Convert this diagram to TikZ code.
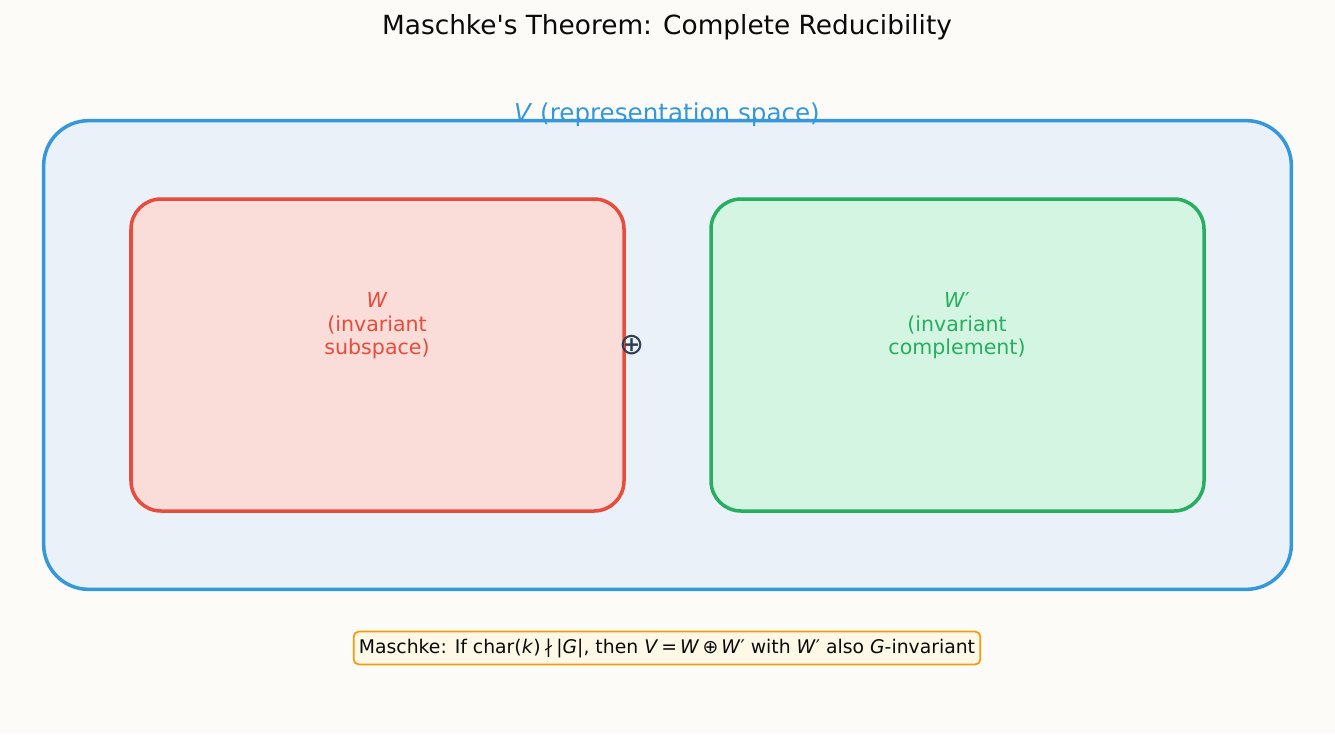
\documentclass[tikz,border=0pt]{standalone}
\usepackage{fontspec}
\setmainfont{DejaVu Sans}
\usetikzlibrary{positioning}
\definecolor{paper}{RGB}{252,251,247}
\definecolor{ink}{RGB}{10,10,10}
\definecolor{slate}{RGB}{44,62,80}
\definecolor{spaceblue}{RGB}{52,152,219}
\definecolor{spacefill}{RGB}{234,241,248}
\definecolor{subred}{RGB}{231,76,60}
\definecolor{subfill}{RGB}{250,220,217}
\definecolor{compgreen}{RGB}{39,174,96}
\definecolor{compfill}{RGB}{212,245,226}
\definecolor{noteorange}{RGB}{243,156,18}
\definecolor{notefill}{RGB}{254,249,231}
\tikzset{
    spacebox/.style={
        rectangle,
        rounded corners=0.9cm,
        minimum width=24.94cm,
        minimum height=9.36cm,
        inner sep=0pt
    },
    subbox/.style={
        rectangle,
        rounded corners=0.6cm,
        line width=2pt,
        minimum width=9.86cm,
        minimum height=6.24cm,
        inner sep=0pt
    },
    boxlabel/.style={
        align=center,
        font=\fontsize{11.7}{13.4}\selectfont
    },
    note/.style={
        rectangle,
        draw=noteorange,
        fill=notefill,
        line width=1pt,
        rounded corners=3pt,
        inner xsep=3pt,
        inner ysep=4pt,
        font=\fontsize{10.7}{12}\selectfont,
        text=ink
    }
}

\begin{document}
\begin{tikzpicture}
\useasboundingbox[fill=paper] (0,0) rectangle (26.7,-14.68);

\node[font=\fontsize{15}{18}\selectfont, text=ink] (title) at (13.34,-0.54) {Maschke\textquotesingle s Theorem: Complete Reducibility};

% representation space V
\node[spacebox, fill=spacefill] (V) at (13.35,-7.1) {};
\node[font=\fontsize{14}{16}\selectfont, text=spaceblue] (Vlabel) at (13.34,-2.3) {\textit{V} (representation space)};
\draw[spaceblue, line width=2pt, rounded corners=0.9cm] (V.south west) rectangle (V.north east);

% the two invariant pieces
\node[subbox, draw=subred, fill=subfill] (W) at (7.55,-7.1) {};
\node[boxlabel, text=subred] (Wlabel) at (7.54,-6.52) {\textit{W}\\(invariant\\subspace)};

\node[subbox, draw=compgreen, fill=compfill] (Wc) at (19.15,-7.1) {};
\node[boxlabel, text=compgreen] (Wclabel) at (19.14,-6.52) {\textit{W}′\\(invariant\\complement)};

\node[font=\fontsize{17}{20}\selectfont, text=slate] (sum) at (12.64,-6.9) {⊕};

\node[note] (thm) at (13.34,-12.96) {Maschke: If char(\textit{k})\,∤\,|\textit{G}|, then \textit{V}\,=\,\textit{W}\,⊕\,\textit{W}′ with \textit{W}′ also \textit{G}-invariant};

\end{tikzpicture}
\end{document}
